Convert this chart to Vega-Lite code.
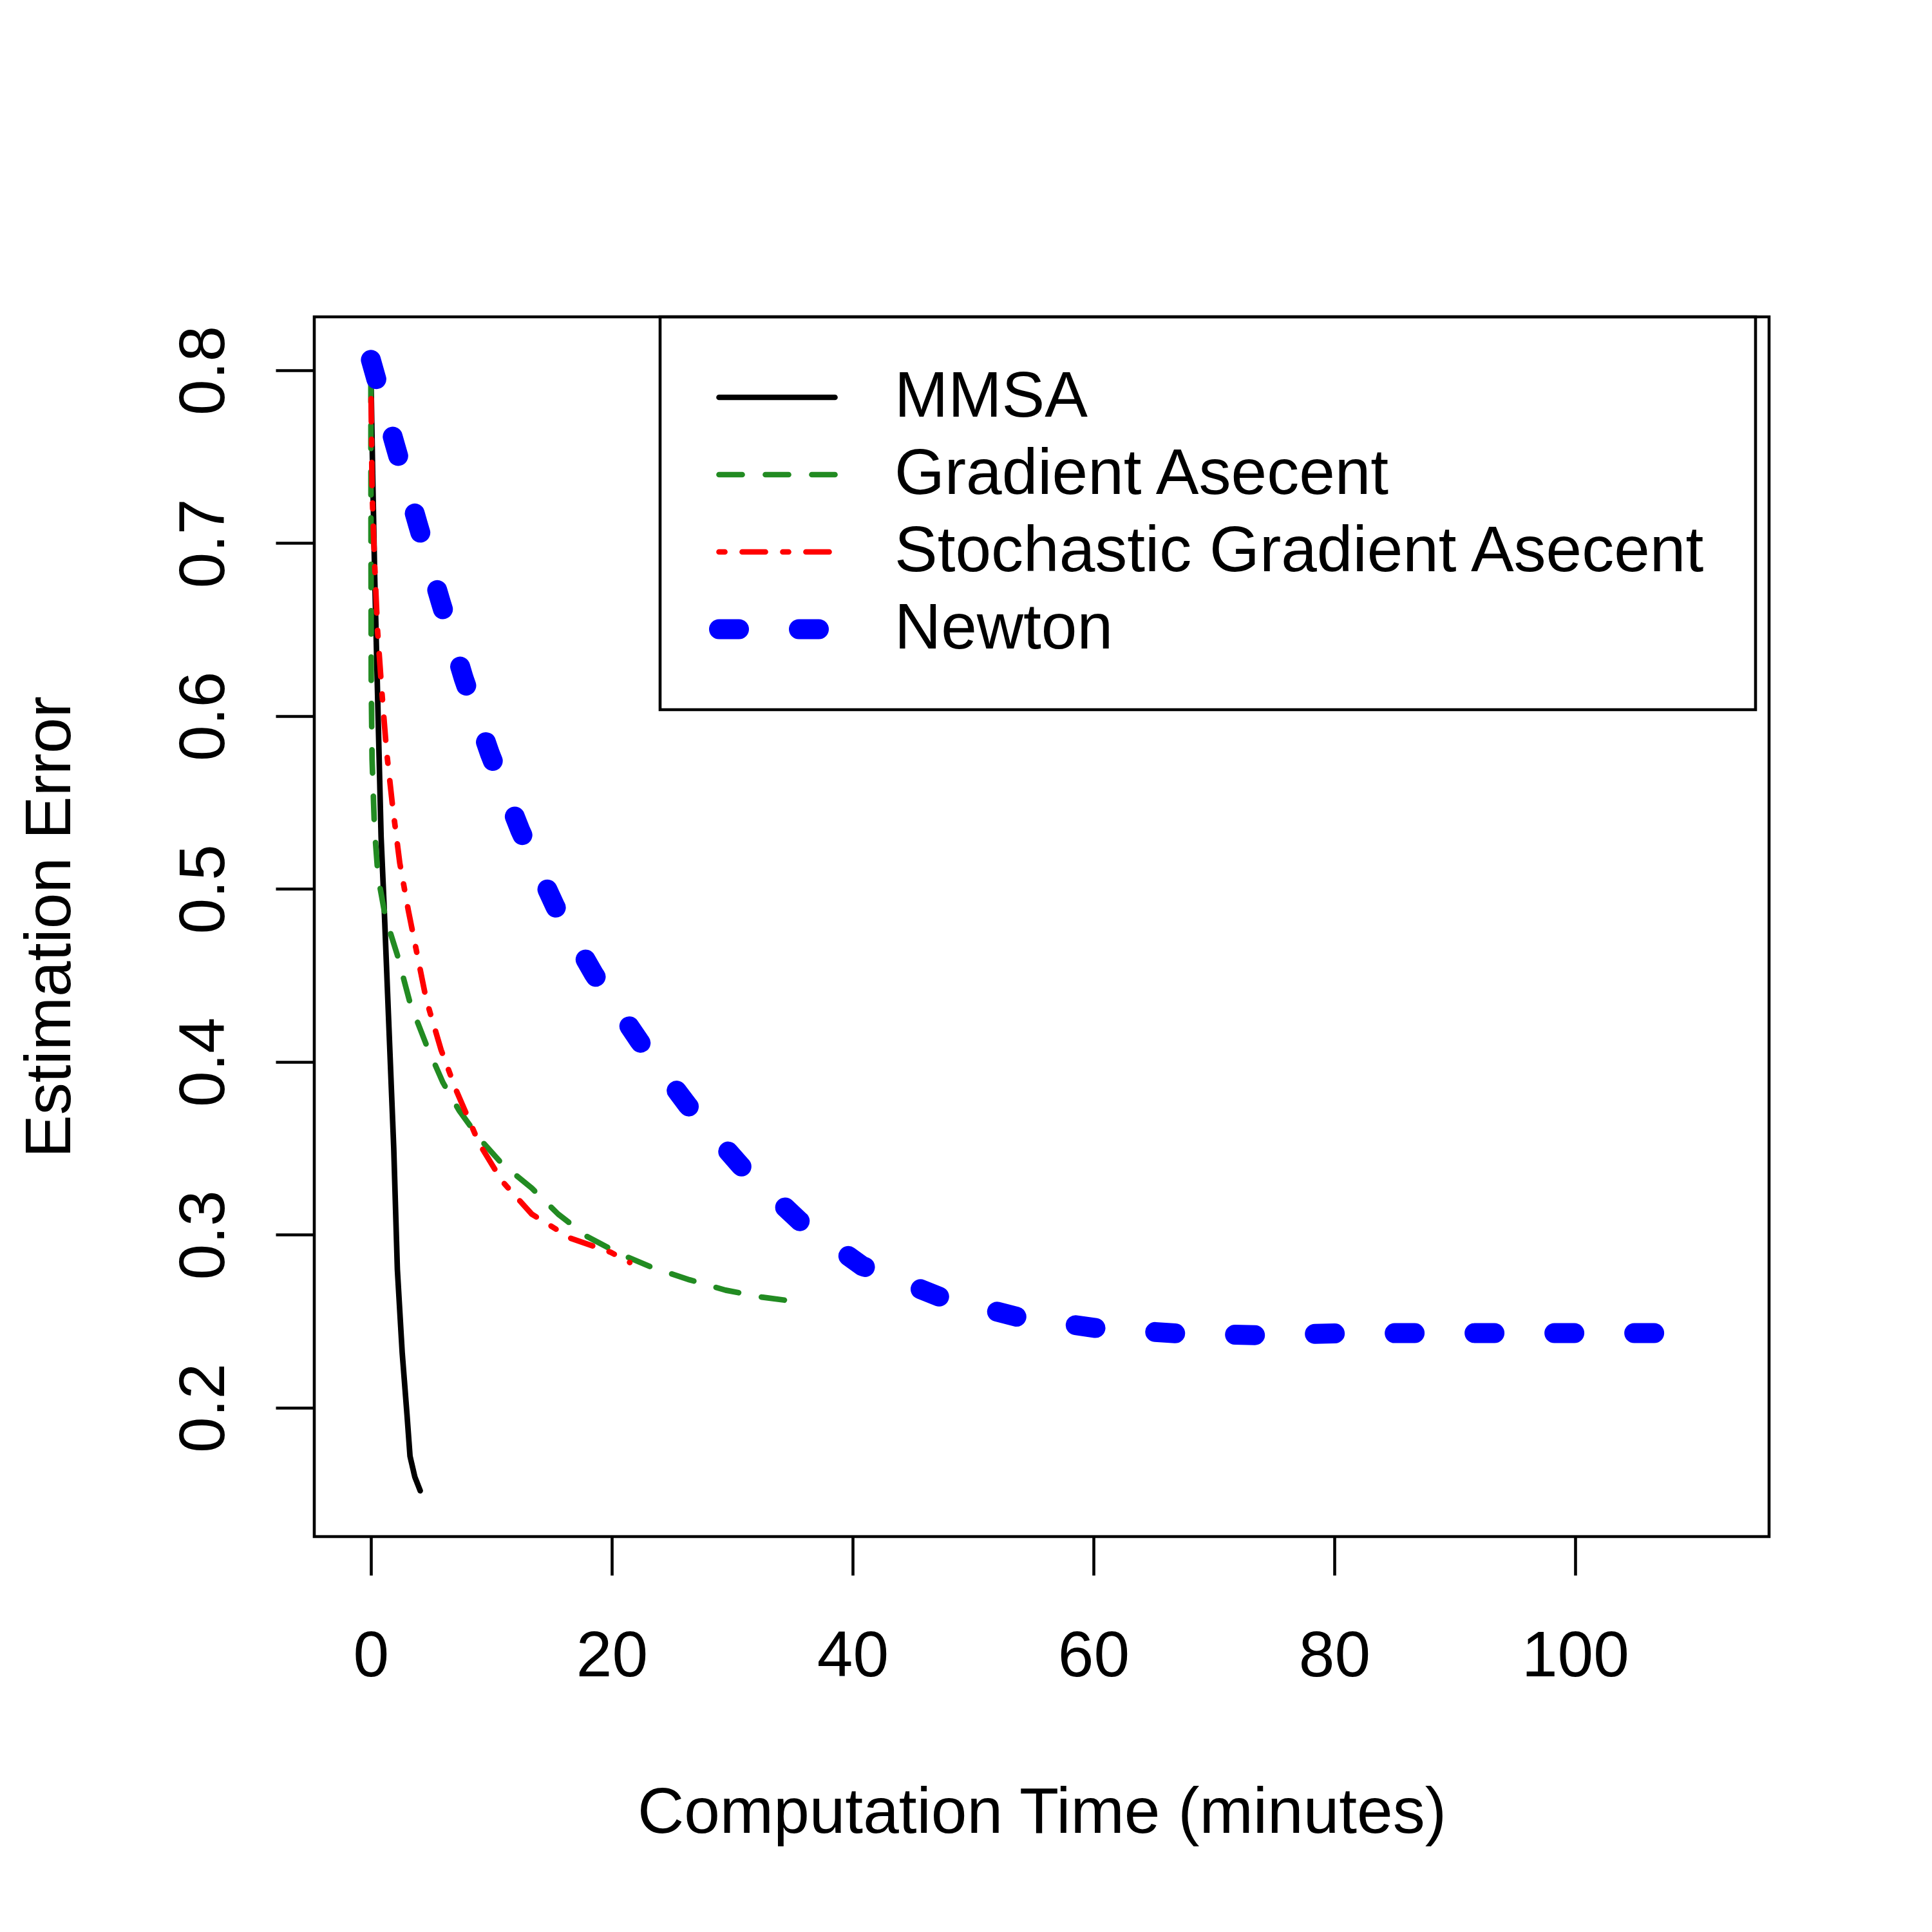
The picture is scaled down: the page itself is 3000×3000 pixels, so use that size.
{
  "$schema": "https://vega.github.io/schema/vega-lite/v6.json",
  "width": 2259,
  "height": 1894,
  "autosize": {"type": "none"},
  "padding": {"left": 488, "top": 492, "right": 253, "bottom": 614},
  "background": "white",
  "config": {
    "view": {"stroke": "black", "strokeWidth": 4.6},
    "font": "Liberation Sans",
    "axis": {
      "domain": false,
      "grid": false,
      "ticks": true,
      "tickColor": "black",
      "tickWidth": 4.6,
      "tickSize": 60,
      "labelFont": "Liberation Sans",
      "labelFontSize": 100,
      "labelColor": "black",
      "labelFlush": false,
      "labelOverlap": false,
      "titleFont": "Liberation Sans",
      "titleFontSize": 100,
      "titleFontWeight": "normal",
      "titleColor": "black"
    },
    "legend": {
      "labelFont": "Liberation Sans",
      "labelFontSize": 100,
      "labelColor": "black",
      "labelLimit": 3000,
      "title": "\u00a0",
      "titleOrient": "right",
      "titleFontSize": 17,
      "titlePadding": 12,
      "orient": "none",
      "legendX": 537,
      "legendY": 0,
      "direction": "vertical",
      "symbolType": "stroke",
      "symbolSize": 32400,
      "symbolOffset": 1,
      "labelOffset": 77,
      "labelBaseline": "middle",
      "padding": 75,
      "clipHeight": 100,
      "rowPadding": 20,
      "strokeColor": "black"
    }
  },
  "data": {
    "values": [
      {"method": "MMSA", "time": 0.0, "error": 0.800},
      {"method": "MMSA", "time": 0.15, "error": 0.740},
      {"method": "MMSA", "time": 0.32, "error": 0.680},
      {"method": "MMSA", "time": 0.6, "error": 0.600},
      {"method": "MMSA", "time": 0.85, "error": 0.530},
      {"method": "MMSA", "time": 1.1, "error": 0.490},
      {"method": "MMSA", "time": 1.5, "error": 0.420},
      {"method": "MMSA", "time": 1.9, "error": 0.350},
      {"method": "MMSA", "time": 2.2, "error": 0.280},
      {"method": "MMSA", "time": 2.6, "error": 0.232},
      {"method": "MMSA", "time": 3.0, "error": 0.196},
      {"method": "MMSA", "time": 3.25, "error": 0.172},
      {"method": "MMSA", "time": 3.65, "error": 0.160},
      {"method": "MMSA", "time": 4.1, "error": 0.152},

      {"method": "Gradient Asecent", "time": 0.0, "error": 0.795},
      {"method": "Gradient Asecent", "time": 0.01, "error": 0.700},
      {"method": "Gradient Asecent", "time": 0.03, "error": 0.620},
      {"method": "Gradient Asecent", "time": 0.1, "error": 0.575},
      {"method": "Gradient Asecent", "time": 0.3, "error": 0.535},
      {"method": "Gradient Asecent", "time": 0.6, "error": 0.507},
      {"method": "Gradient Asecent", "time": 1.2, "error": 0.484},
      {"method": "Gradient Asecent", "time": 2.19, "error": 0.462},
      {"method": "Gradient Asecent", "time": 3.26, "error": 0.434},
      {"method": "Gradient Asecent", "time": 4.6, "error": 0.410},
      {"method": "Gradient Asecent", "time": 5.99, "error": 0.388},
      {"method": "Gradient Asecent", "time": 7.32, "error": 0.372},
      {"method": "Gradient Asecent", "time": 8.98, "error": 0.356},
      {"method": "Gradient Asecent", "time": 10.9, "error": 0.341},
      {"method": "Gradient Asecent", "time": 13.36, "error": 0.327},
      {"method": "Gradient Asecent", "time": 15.55, "error": 0.312},
      {"method": "Gradient Asecent", "time": 17.96, "error": 0.299},
      {"method": "Gradient Asecent", "time": 20.68, "error": 0.289},
      {"method": "Gradient Asecent", "time": 23.4, "error": 0.281},
      {"method": "Gradient Asecent", "time": 26.46, "error": 0.274},
      {"method": "Gradient Asecent", "time": 29.45, "error": 0.268},
      {"method": "Gradient Asecent", "time": 32.44, "error": 0.264},
      {"method": "Gradient Asecent", "time": 34.63, "error": 0.262},

      {"method": "Stochastic Gradient Asecent", "time": 0.0, "error": 0.797},
      {"method": "Stochastic Gradient Asecent", "time": 0.1, "error": 0.730},
      {"method": "Stochastic Gradient Asecent", "time": 0.3, "error": 0.690},
      {"method": "Stochastic Gradient Asecent", "time": 0.55, "error": 0.650},
      {"method": "Stochastic Gradient Asecent", "time": 0.9, "error": 0.615},
      {"method": "Stochastic Gradient Asecent", "time": 1.3, "error": 0.580},
      {"method": "Stochastic Gradient Asecent", "time": 1.8, "error": 0.548},
      {"method": "Stochastic Gradient Asecent", "time": 2.4, "error": 0.515},
      {"method": "Stochastic Gradient Asecent", "time": 3.1, "error": 0.488},
      {"method": "Stochastic Gradient Asecent", "time": 3.79, "error": 0.464},
      {"method": "Stochastic Gradient Asecent", "time": 4.6, "error": 0.436},
      {"method": "Stochastic Gradient Asecent", "time": 5.83, "error": 0.407},
      {"method": "Stochastic Gradient Asecent", "time": 7.06, "error": 0.384},
      {"method": "Stochastic Gradient Asecent", "time": 8.98, "error": 0.353},
      {"method": "Stochastic Gradient Asecent", "time": 10.9, "error": 0.331},
      {"method": "Stochastic Gradient Asecent", "time": 13.36, "error": 0.312},
      {"method": "Stochastic Gradient Asecent", "time": 16.6, "error": 0.298},
      {"method": "Stochastic Gradient Asecent", "time": 19.9, "error": 0.290},
      {"method": "Stochastic Gradient Asecent", "time": 21.5, "error": 0.284},

      {"method": "Newton", "time": 0.0, "error": 0.806},
      {"method": "Newton", "time": 2.0, "error": 0.757},
      {"method": "Newton", "time": 3.9, "error": 0.711},
      {"method": "Newton", "time": 5.8, "error": 0.666},
      {"method": "Newton", "time": 7.7, "error": 0.622},
      {"method": "Newton", "time": 9.9, "error": 0.578},
      {"method": "Newton", "time": 12.4, "error": 0.534},
      {"method": "Newton", "time": 15.3, "error": 0.490},
      {"method": "Newton", "time": 18.5, "error": 0.451},
      {"method": "Newton", "time": 22.3, "error": 0.412},
      {"method": "Newton", "time": 26.3, "error": 0.375},
      {"method": "Newton", "time": 30.7, "error": 0.340},
      {"method": "Newton", "time": 35.6, "error": 0.308},
      {"method": "Newton", "time": 40.8, "error": 0.282},
      {"method": "Newton", "time": 47.3, "error": 0.264},
      {"method": "Newton", "time": 53.7, "error": 0.2525},
      {"method": "Newton", "time": 60.3, "error": 0.246},
      {"method": "Newton", "time": 66.9, "error": 0.243},
      {"method": "Newton", "time": 73.5, "error": 0.242},
      {"method": "Newton", "time": 80.2, "error": 0.243},
      {"method": "Newton", "time": 86.8, "error": 0.2432},
      {"method": "Newton", "time": 93.4, "error": 0.2432},
      {"method": "Newton", "time": 100.1, "error": 0.2432},
      {"method": "Newton", "time": 106.7, "error": 0.2432},
      {"method": "Newton", "time": 110.0, "error": 0.2432}
    ]
  },
  "mark": {"type": "line", "strokeCap": "round", "strokeJoin": "round", "clip": true},
  "encoding": {
    "x": {
      "field": "time",
      "type": "quantitative",
      "scale": {"domain": [-4.7, 116.1], "nice": false, "zero": false},
      "axis": {
        "values": [0, 20, 40, 60, 80, 100],
        "title": "Computation Time (minutes)",
        "labelBaseline": "alphabetic",
        "labelAlign": "center",
        "labelPadding": 156,
        "titleX": 1129.5,
        "titleY": 459,
        "titleAlign": "center",
        "titleBaseline": "alphabetic"
      }
    },
    "y": {
      "field": "error",
      "type": "quantitative",
      "scale": {"domain": [0.1255, 0.8309], "nice": false, "zero": false},
      "axis": {
        "values": [0.2, 0.3, 0.4, 0.5, 0.6, 0.7, 0.8],
        "format": ".1f",
        "title": "Estimation Error",
        "labelAngle": -90,
        "labelAlign": "center",
        "labelBaseline": "alphabetic",
        "labelPadding": 81,
        "titleAngle": -90,
        "titleX": -380,
        "titleY": 947,
        "titleAlign": "center",
        "titleBaseline": "alphabetic"
      }
    },
    "color": {
      "field": "method",
      "type": "nominal",
      "scale": {
        "domain": ["MMSA", "Gradient Asecent", "Stochastic Gradient Asecent", "Newton"],
        "range": ["black", "#228B22", "red", "blue"]
      },
      "legend": {
        "encode": {
          "legend": {"update": {"strokeWidth": {"value": 4.6}}},
          "symbols": {"update": {"strokeCap": {"value": "round"}}}
        }
      }
    },
    "strokeDash": {
      "field": "method",
      "type": "nominal",
      "scale": {
        "domain": ["MMSA", "Gradient Asecent", "Stochastic Gradient Asecent", "Newton"],
        "range": [[1, 0], [36, 36], [9, 27, 36, 27], [31, 93]]
      }
    },
    "strokeWidth": {
      "field": "method",
      "type": "ordinal",
      "scale": {
        "type": "ordinal",
        "domain": ["MMSA", "Gradient Asecent", "Stochastic Gradient Asecent", "Newton"],
        "range": [8.7, 8.7, 8.7, 31]
      }
    }
  }
}
